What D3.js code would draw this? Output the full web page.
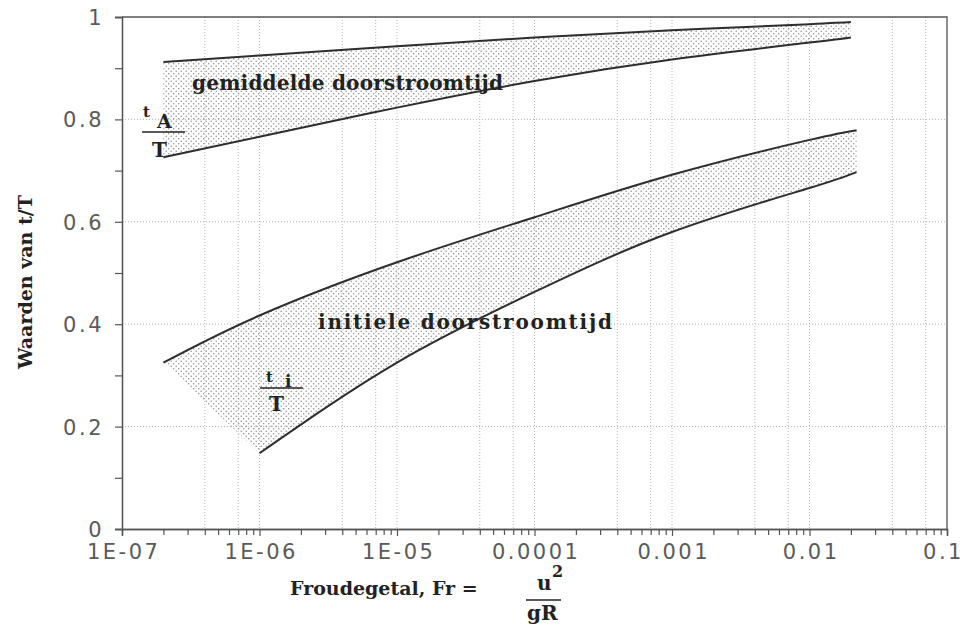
<!DOCTYPE html>
<html>
<head>
<meta charset="utf-8">
<script src="https://cdn.jsdelivr.net/npm/d3@7/dist/d3.min.js"></script>
<style>
  body { margin: 0; background: #fff; }
  svg { display: block; }
</style>
</head>
<body>
<svg id="chart" width="963" height="629"></svg>
<script>
// x ticks (Froude number, log scale)
const xMajor = [1e-7, 1e-6, 1e-5, 1e-4, 1e-3, 1e-2, 1e-1]
const xLabels = ["1E-07", "1E-06", "1E-05", "0.0001", "0.001", "0.01", "0.1"]
const minorMult = [2, 3, 4, 5, 6, 7, 8, 9]
const gridMult = [4, 7, 10]

// y ticks
const yMajor = [0, 0.2, 0.4, 0.6, 0.8, 1]
const yLabels = ["0", "0.2", "0.4", "0.6", "0.8", "1"]
const yMinor = [0.1, 0.3, 0.5, 0.7, 0.9]

// gemiddelde doorstroomtijd band (tA/T)
const frGem = [2e-7, 1e-6, 1e-5, 1e-4, 1e-3, 1e-2, 2e-2]
const gemUpper = [0.912, 0.925, 0.943, 0.960, 0.974, 0.986, 0.990]
const gemLower = [0.726, 0.766, 0.823, 0.875, 0.917, 0.950, 0.960]

// initiele doorstroomtijd band (ti/T)
const frIniUpper = [2e-7, 1e-6, 1e-5, 1e-4, 1e-3, 1e-2, 2.2e-2]
const iniUpper = [0.325, 0.417, 0.521, 0.609, 0.692, 0.760, 0.779]
const frIniLower = [1e-6, 1e-5, 1e-4, 1e-3, 1e-2, 2.2e-2]
const iniLower = [0.148, 0.325, 0.463, 0.580, 0.666, 0.697]

const pl = 122, pr = 947, pt = 17, pb = 529
const x = d3.scaleLog().domain([1e-7, 0.1]).range([pl, pr])
const y = d3.scaleLinear().domain([0, 1]).range([pb, pt])

const svg = d3.select("#chart")
const serif = "'DejaVu Serif', serif"
const sans = "'DejaVu Sans', sans-serif"
const axisCol = "#555"

// dot pattern for shaded bands
const pat = svg.append("defs").append("pattern")
  .attr("id", "dots")
  .attr("patternUnits", "userSpaceOnUse")
  .attr("width", 5).attr("height", 5)
pat.append("circle").attr("cx", 1.2).attr("cy", 1.2).attr("r", 0.75).attr("fill", "#8a8a8a")
pat.append("circle").attr("cx", 3.7).attr("cy", 3.7).attr("r", 0.75).attr("fill", "#8a8a8a")

// dotted grid
const gridX = []
xMajor.slice(0, -1).forEach(d => gridMult.forEach(m => gridX.push(d * m)))
svg.append("g").selectAll("line")
  .data(gridX.filter(d => d < 0.1))
  .join("line")
  .attr("x1", d => x(d)).attr("x2", d => x(d))
  .attr("y1", pt).attr("y2", pb)
  .attr("stroke", "#b5b5b5")
  .attr("stroke-dasharray", "1,2")

svg.append("g").selectAll("line")
  .data(yMajor.slice(1, -1))
  .join("line")
  .attr("x1", pl).attr("x2", pr)
  .attr("y1", d => y(d)).attr("y2", d => y(d))
  .attr("stroke", "#b5b5b5")
  .attr("stroke-dasharray", "1,2")

// bands: smooth curves, fill built by sampling both strokes
const line = d3.line()
  .x(d => x(d[0])).y(d => y(d[1]))
  .curve(d3.curveNatural)

function sample(node) {
  const len = node.getTotalLength(), pts = []
  for (let s = 0; s <= len; s += 2) {
    const p = node.getPointAtLength(s)
    pts.push([p.x, p.y])
  }
  const e = node.getPointAtLength(len)
  pts.push([e.x, e.y])
  return pts
}

function band(frU, up, frL, lo) {
  const fill = svg.append("path").attr("fill", "url(#dots)").attr("stroke", "none")
  const paths = [frU.map((f, i) => [f, up[i]]), frL.map((f, i) => [f, lo[i]])].map(pts =>
    svg.append("path")
      .attr("d", line(pts))
      .attr("fill", "none")
      .attr("stroke", "#2e2e2e")
      .attr("stroke-width", 2))
  const poly = sample(paths[0].node()).concat(sample(paths[1].node()).reverse())
  fill.attr("d", "M" + poly.map(p => p.join(",")).join("L") + "Z")
}
band(frGem, gemUpper, frGem, gemLower)
band(frIniUpper, iniUpper, frIniLower, iniLower)

// frame
svg.append("path")
  .attr("d", `M${pl},${pt}H${pr}V${pb}`)
  .attr("fill", "none")
  .attr("stroke", axisCol)
  .attr("stroke-width", 1.3)

// x axis
const minorX = []
xMajor.slice(0, -1).forEach(d => minorMult.forEach(m => minorX.push(d * m)))
svg.append("g")
  .attr("transform", `translate(0,${pb})`)
  .call(d3.axisBottom(x).tickValues(minorX).tickSize(6).tickFormat(""))
svg.append("g")
  .attr("class", "xmaj")
  .attr("transform", `translate(0,${pb})`)
  .call(d3.axisBottom(x).tickValues(xMajor).tickSize(7).tickPadding(8)
    .tickFormat((d, i) => xLabels[i]))

// y axis
svg.append("g")
  .attr("transform", `translate(${pl},0)`)
  .call(d3.axisLeft(y).tickValues(yMinor).tickSize(7).tickFormat(""))
svg.append("g")
  .attr("class", "ymaj")
  .attr("transform", `translate(${pl},0)`)
  .call(d3.axisLeft(y).tickValues(yMajor).tickSize(7).tickPadding(11)
    .tickFormat((d, i) => yLabels[i]))

svg.selectAll(".domain").attr("stroke", axisCol).attr("stroke-width", 1.3)
svg.selectAll(".tick line").attr("stroke", axisCol).attr("stroke-width", 1.2)
svg.selectAll(".tick text")
  .attr("fill", "#5a5a5a")
  .attr("font-family", sans)
  .attr("font-size", "21px")
  .attr("letter-spacing", "2.5px")
svg.selectAll(".ymaj .tick text").attr("dy", "0.36em")
svg.selectAll(".xmaj .tick text").attr("dx", "1.2")
// last x label sits against the page edge
svg.selectAll(".xmaj .tick text").filter((d, i) => i === xMajor.length - 1).attr("dx", "-4")

// axis titles
svg.append("text")
  .attr("transform", "translate(32,282) rotate(-90)")
  .attr("text-anchor", "middle")
  .attr("font-family", serif).attr("font-weight", "bold")
  .attr("font-size", "19px").attr("fill", "#222")
  .text("Waarden van t/T")

svg.append("text")
  .attr("x", 290).attr("y", 595)
  .attr("font-family", serif).attr("font-weight", "bold")
  .attr("font-size", "19px").attr("fill", "#222")
  .text("Froudegetal, Fr =")

// u^2 / gR fraction
svg.append("text").attr("x", 537).attr("y", 590)
  .attr("font-family", serif).attr("font-weight", "bold")
  .attr("font-size", "20px").attr("fill", "#222").text("u")
svg.append("text").attr("x", 552).attr("y", 577)
  .attr("font-family", serif).attr("font-weight", "bold")
  .attr("font-size", "16px").attr("fill", "#222").text("2")
svg.append("line").attr("x1", 526).attr("x2", 561).attr("y1", 600).attr("y2", 600)
  .attr("stroke", "#222").attr("stroke-width", 1.5)
svg.append("text").attr("x", 527).attr("y", 620)
  .attr("font-family", serif).attr("font-weight", "bold")
  .attr("font-size", "20px").attr("fill", "#222").text("gR")

// band labels
svg.append("text")
  .attr("x", 192).attr("y", 90)
  .attr("font-family", serif).attr("font-weight", "bold")
  .attr("font-size", "20px").attr("fill", "#222")
  .attr("textLength", 311)
  .text("gemiddelde doorstroomtijd")

svg.append("text")
  .attr("x", 318).attr("y", 329)
  .attr("font-family", serif).attr("font-weight", "bold")
  .attr("font-size", "20px").attr("fill", "#222")
  .attr("textLength", 294)
  .text("initiele doorstroomtijd")

// t_A / T and t_i / T
function frac(x0, x1, ly, sub, tx, ty, sx, sy, bx, by) {
  svg.append("text").attr("x", tx).attr("y", ty)
    .attr("font-family", serif).attr("font-weight", "bold")
    .attr("font-size", "15px").attr("fill", "#222").text("t")
  svg.append("text").attr("x", sx).attr("y", sy)
    .attr("font-family", serif).attr("font-weight", "bold")
    .attr("font-size", sub === "A" ? "19px" : "17px").attr("fill", "#222").text(sub)
  svg.append("line").attr("x1", x0).attr("x2", x1).attr("y1", ly).attr("y2", ly)
    .attr("stroke", "#222").attr("stroke-width", 1.5)
  svg.append("text").attr("x", bx).attr("y", by)
    .attr("font-family", serif).attr("font-weight", "bold")
    .attr("font-size", "20px").attr("fill", "#222").text("T")
}
frac(142, 185, 132, "A", 143, 117, 157, 128, 152, 157)
frac(260, 303, 388, "i", 266, 382, 285, 387, 269, 411)
</script>
</body>
</html>
